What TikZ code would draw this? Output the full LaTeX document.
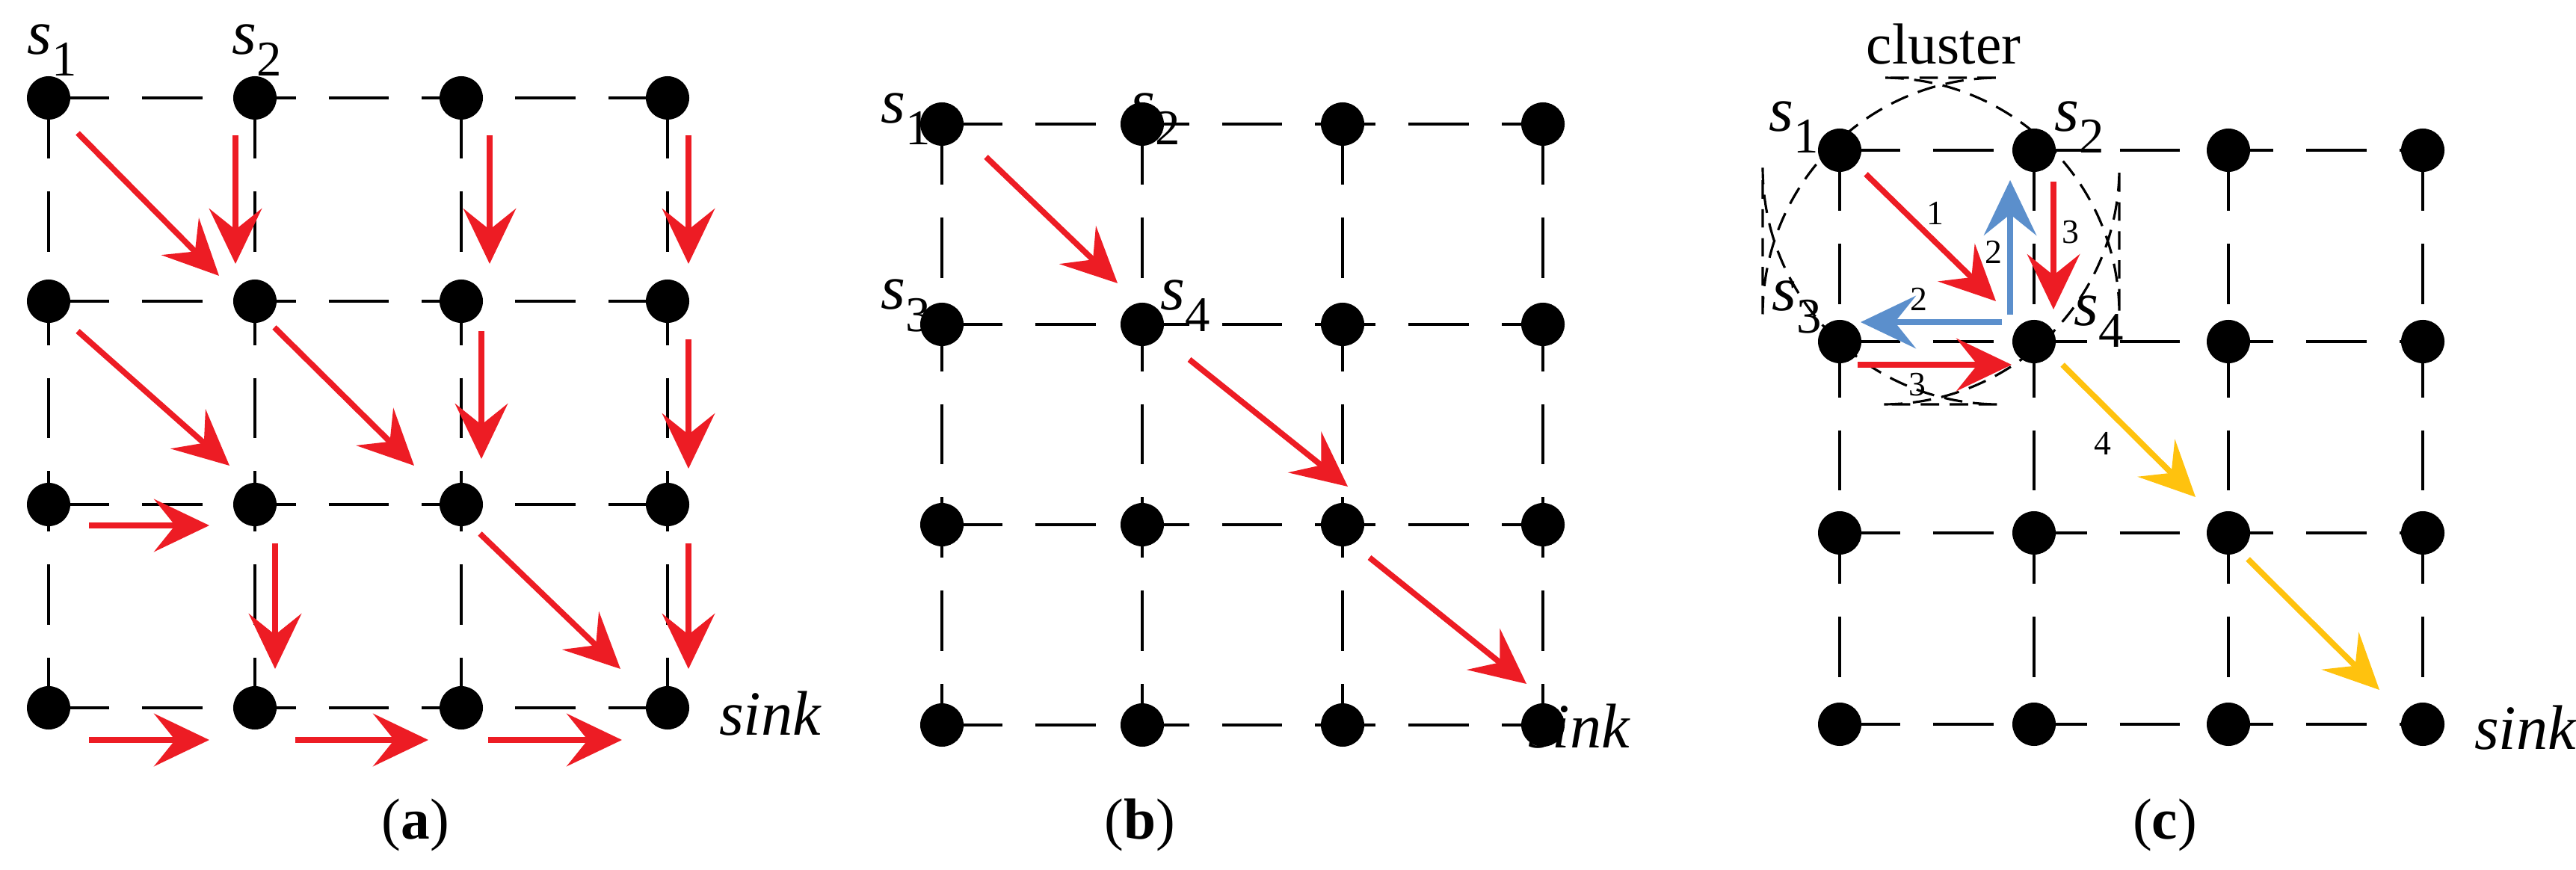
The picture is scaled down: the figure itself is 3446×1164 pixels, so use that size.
\documentclass[tikz,border=0pt]{standalone}
\usepackage{fontspec}
\setmainfont{Liberation Serif}
\usetikzlibrary{arrows.meta,calc}
\definecolor{ared}{HTML}{ED1C24}
\definecolor{ablue}{HTML}{5B8FCC}
\definecolor{ayel}{HTML}{FFC20E}
\tikzset{
 dot/.style={circle,fill=black,inner sep=0pt,minimum size=16.5pt},
 grid/.style={line width=1.1pt,dash pattern=on 23pt off 12.5pt},
 arr/.style={line width=2.2pt,-{Stealth[length=21pt,width=20pt,inset=8pt]}},
 lab/.style={font=\fontsize{24}{24}\selectfont\itshape,inner sep=0pt},
 num/.style={font=\fontsize{13}{13}\selectfont,inner sep=0pt},
 captxt/.style={font=\fontsize{22}{22}\selectfont,inner sep=0pt},
}
\newcommand{\sub}[1]{\textit{s}\raisebox{-0.35em}{\fontsize{19}{19}\selectfont\upshape #1}}
\begin{document}
\begin{tikzpicture}[x=0.01cm,y=-0.01cm]
\useasboundingbox (0,0) rectangle (3446,1164);
% grids
\foreach \p/\xs/\ys/\dx/\dy in {a/65/131/276/272, b/1260/166/268/268, c/2461/201/260/256}{
  \foreach \i in {1,...,4}{\foreach \j in {1,...,4}{
    \coordinate (\p\i\j) at ({\xs+(\j-1)*\dx},{\ys+(\i-1)*\dy});}}
  \foreach \i in {1,...,4}{
    \draw[grid] (\p\i1) -- (\p\i2) -- (\p\i3) -- (\p\i4);
    \draw[grid] (\p1\i) -- (\p2\i) -- (\p3\i) -- (\p4\i);}
  \foreach \i in {1,...,4}{\foreach \j in {1,...,4}{
    \node[dot] (\p n\i\j) at (\p\i\j) {};}}
}
% panel a
\node[lab] (as1) at (70,67) {\sub{1}};
\node[lab] (as2) at (344,67) {\sub{2}};
\node[lab] (asink) at (1030,955) {sink};
\node[captxt] (acap) at (556,1104) {(\textbf{a})};
\draw[arr,ared] ($(a11)+(39,47)$) -- ($(a22)+(-48,-34)$);
\draw[arr,ared] ($(a21)+(39,40)$) -- ($(a32)+(-34,-52)$);
\draw[arr,ared] ($(a22)+(26,35)$) -- ($(a33)+(-63,-52)$);
\draw[arr,ared] ($(a33)+(25,39)$) -- ($(a44)+(-63,-52)$);
\draw[arr,ared] ($(a12)+(-26,50)$) -- ($(a22)+(-26,-50)$);
\draw[arr,ared] ($(a13)+(38,50)$) -- ($(a23)+(38,-50)$);
\draw[arr,ared] ($(a14)+(28,50)$) -- ($(a24)+(28,-50)$);
\draw[arr,ared] ($(a23)+(27,40)$) -- ($(a33)+(27,-61)$);
\draw[arr,ared] ($(a24)+(28,51)$) -- ($(a34)+(28,-48)$);
\draw[arr,ared] ($(a32)+(27,52)$) -- ($(a42)+(27,-52)$);
\draw[arr,ared] ($(a34)+(28,52)$) -- ($(a44)+(28,-52)$);
\draw[arr,ared] ($(a31)+(54,28)$) -- ($(a32)+(-61,28)$);
\draw[arr,ared] ($(a41)+(54,43)$) -- ($(a42)+(-61,43)$);
\draw[arr,ared] ($(a42)+(54,43)$) -- ($(a43)+(-44,43)$);
\draw[arr,ared] ($(a43)+(36,43)$) -- ($(a44)+(-61,43)$);
% panel b
\node[lab] (bs1) at (1212,159) {\sub{1}};
\node[lab] (bs2) at (1546,159) {\sub{2}};
\node[lab] (bs3) at (1212,409) {\sub{3}};
\node[lab] (bs4) at (1586,409) {\sub{4}};
\node[lab] (bsink) at (2112,972) {sink};
\node[captxt] (bcap) at (1525,1104) {(\textbf{b})};
\draw[arr,ared] ($(b11)+(59,44)$) -- ($(b22)+(-33,-55)$);
\draw[arr,ared] ($(b22)+(63,47)$) -- ($(b33)+(7,-51)$);
\draw[arr,ared] ($(b33)+(36,44)$) -- ($(b44)+(-22,-55)$);
% panel c
\draw[line width=0.9pt,dash pattern=on 7pt off 4pt,rounded corners=90] (2358,104) rectangle (2835,541);
\node[captxt] (ccl) at (2600,59) {cluster};
\node[lab] (cs1) at (2400,170) {\sub{1}};
\node[lab] (cs2) at (2782,170) {\sub{2}};
\node[lab] (cs3) at (2404,411) {\sub{3}};
\node[lab] (cs4) at (2808,430) {\sub{4}};
\node[lab] (csink) at (3378,974) {sink};
\node[captxt] (ccap) at (2896,1104) {(\textbf{c})};
\draw[arr,ared] ($(c11)+(35,32)$) -- ($(c22)+(-51,-54)$);
\draw[arr,ablue] ($(c22)+(-32,-36)$) -- ($(c12)+(-32,40)$);
\draw[arr,ared] ($(c12)+(26,42)$) -- ($(c22)+(26,-43)$);
\draw[arr,ablue] ($(c22)+(-43,-26)$) -- ($(c21)+(28,-26)$);
\draw[arr,ared] ($(c21)+(24,31)$) -- ($(c22)+(-30,31)$);
\draw[arr,ayel] ($(c22)+(38,31)$) -- ($(c33)+(-44,-48)$);
\draw[arr,ayel] ($(c33)+(26,35)$) -- ($(c44)+(-58,-46)$);
\node[num] (l1) at (2589,285) {1};
\node[num] (l2a) at (2667,337) {2};
\node[num] (l3a) at (2770,311) {3};
\node[num] (l2b) at (2567,400) {2};
\node[num] (l3b) at (2565,515) {3};
\node[num] (l4) at (2813,593) {4};
\end{tikzpicture}
\end{document}
